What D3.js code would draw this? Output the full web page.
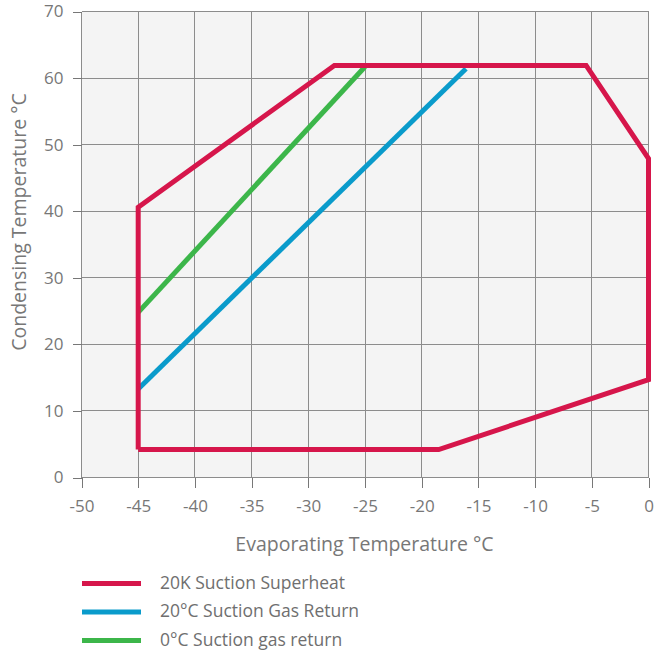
<!DOCTYPE html>
<html>
<head>
<meta charset="utf-8">
<script src="https://cdn.jsdelivr.net/npm/d3@7"></script>
<style>
  body { margin: 0; background: #fff; }
  text { font-family: "Open Sans", sans-serif; fill: #777; }
  .grid line { stroke: #8c8c8c; stroke-width: 1px; shape-rendering: crispEdges; }
  .axis path { display: none; }
  .axis line { stroke: #777; shape-rendering: crispEdges; }
  .axis text { font-size: 17px; fill: #777; }
</style>
</head>
<body>
<svg width="654" height="654"></svg>
<script>
// envelope data
var superheat = [[-45, 4.2], [-18.5, 4.2], [0, 14.7], [0, 47.9], [-5.5, 61.9], [-27.7, 61.9], [-45, 40.6], [-45, 4.2]]
var gasReturn20 = [[-45, 13.3], [-16.1, 61.4]]
var gasReturn0 = [[-45, 24.8], [-25, 61.7]]

var xTicks = [-50, -45, -40, -35, -30, -25, -20, -15, -10, -5, 0]
var yTicks = [0, 10, 20, 30, 40, 50, 60, 70]

var legendNames = ['20K Suction Superheat', '20°C Suction Gas Return', '0°C Suction gas return']
var colors = ['#d6164b', '#0a9bcb', '#3cb64a']

var svg = d3.select('svg')

var x = d3.scaleLinear().domain([-50, 0]).range([81.5, 648.5])
var y = d3.scaleLinear().domain([0, 70]).range([477.5, 11.5])

// plot background
svg.append('rect')
  .attr('x', x(-50)).attr('y', y(70))
  .attr('width', x(0) - x(-50)).attr('height', y(0) - y(70))
  .attr('fill', '#f4f4f4')

// grid
var grid = svg.append('g').attr('class', 'grid')
grid.selectAll('line.v').data(xTicks).enter().append('line')
  .attr('x1', d => x(d)).attr('x2', d => x(d))
  .attr('y1', y(70)).attr('y2', y(0))
grid.selectAll('line.h').data(yTicks).enter().append('line')
  .attr('x1', x(-50)).attr('x2', x(0))
  .attr('y1', d => y(d)).attr('y2', d => y(d))

// axes
svg.append('g').attr('class', 'axis')
  .attr('transform', 'translate(' + x(-50) + ',0)')
  .call(d3.axisLeft(y).tickValues(yTicks).tickSize(9).tickPadding(9))

svg.append('g').attr('class', 'axis')
  .attr('transform', 'translate(0,' + y(0) + ')')
  .call(d3.axisBottom(x).tickValues(xTicks).tickSize(10).tickPadding(12)
    .tickFormat(d => d))

// axis titles
svg.append('text')
  .attr('x', 364.5).attr('y', 551)
  .attr('text-anchor', 'middle')
  .style('font-size', '19.5px')
  .text('Evaporating Temperature °C')

svg.append('text')
  .attr('transform', 'translate(26,' + 222 + ') rotate(-90)')
  .attr('text-anchor', 'middle')
  .style('font-size', '19.5px')
  .text('Condensing Temperature °C')

// lines
var line = d3.line().x(d => x(d[0])).y(d => y(d[1]))
var series = [superheat, gasReturn20, gasReturn0]
// blue and green first, red on top
svg.selectAll('path.series').data([1, 2, 0]).enter().append('path')
  .attr('class', 'series')
  .attr('d', i => line(series[i]))
  .attr('fill', 'none')
  .attr('stroke', i => colors[i])
  .attr('stroke-width', 5)
  .attr('stroke-linejoin', 'miter')

// legend
var legend = svg.selectAll('g.legend').data(legendNames).enter().append('g')
  .attr('class', 'legend')
  .attr('transform', (d, i) => 'translate(0,' + (583.5 + i * 28.5) + ')')
legend.append('line')
  .attr('x1', 82).attr('x2', 141)
  .attr('stroke', (d, i) => colors[i])
  .attr('stroke-width', 5)
legend.append('text')
  .attr('x', 160).attr('y', 5)
  .style('font-size', '17.5px')
  .style('fill', '#6f6f6f')
  .text(d => d)
</script>
</body>
</html>
